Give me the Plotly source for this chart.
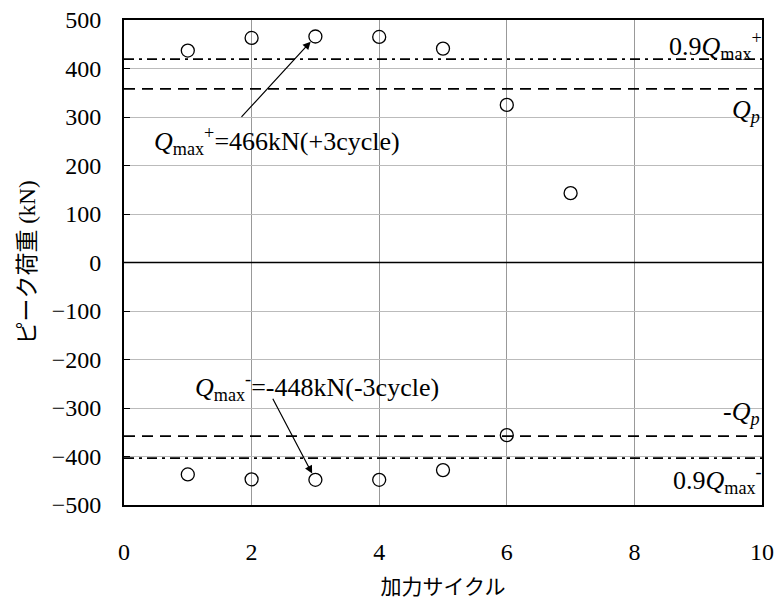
import plotly.graph_objects as go

# Peak load per loading cycle (kN)
cycles_pos = [1, 2, 3, 4, 5, 6, 7]
peak_pos = [437, 463, 466, 465, 441, 325, 143]
cycles_neg = [1, 2, 3, 4, 5, 6]
peak_neg = [-437, -447, -448, -448, -428, -356]

q_max_pos = 466
q_max_neg = -448
q_p = 358

x_ticks = [0, 2, 4, 6, 8, 10]
y_ticks = [500, 400, 300, 200, 100, 0, -100, -200, -300, -400, -500]

SERIF = "Liberation Serif, Noto Sans CJK JP"
DASHDOT = "10px,5px,3px,5px"
DASH = "11px,7px"

fig = go.Figure()

# reference levels: 0.9Qmax (dash-dot) and Qp (dashed)
for yv, dash in [(0.9 * q_max_pos, DASHDOT), (q_p, DASH),
                 (-q_p, DASH), (0.9 * q_max_neg, DASHDOT)]:
    fig.add_trace(go.Scatter(x=[0, 10], y=[yv, yv], mode="lines",
                             line=dict(color="black", width=1.7, dash=dash),
                             hoverinfo="skip", showlegend=False))

# zero line
fig.add_trace(go.Scatter(x=[0, 10], y=[0, 0], mode="lines",
                         line=dict(color="black", width=1.5),
                         hoverinfo="skip", showlegend=False))

marker = dict(symbol="circle-open", size=13, color="black", line=dict(width=1.3, color="black"))
fig.add_trace(go.Scatter(x=cycles_pos, y=peak_pos, mode="markers", marker=marker, showlegend=False))
fig.add_trace(go.Scatter(x=cycles_neg, y=peak_neg, mode="markers", marker=marker, showlegend=False))

txt = dict(family=SERIF, size=26, color="black")

# arrows pointing at the maximum peaks
fig.add_annotation(x=3, y=q_max_pos, ax=1.82, ay=297, axref="x", ayref="y",
                   xref="x", yref="y", showarrow=True, arrowhead=2, arrowsize=1.3,
                   arrowwidth=1.2, arrowcolor="black", standoff=7, text="")
fig.add_annotation(x=0.44, y=251, xref="x", yref="y", xanchor="left", yanchor="middle",
                   showarrow=False, font=txt,
                   text="<i>Q</i><sub>max</sub><sup>+</sup>=466kN(+3cycle)")

fig.add_annotation(x=3, y=q_max_neg, ax=2.32, ay=-278, axref="x", ayref="y",
                   xref="x", yref="y", showarrow=True, arrowhead=2, arrowsize=1.3,
                   arrowwidth=1.2, arrowcolor="black", standoff=7, text="")
fig.add_annotation(x=1.08, y=-257, xref="x", yref="y", xanchor="left", yanchor="middle",
                   showarrow=False, font=txt,
                   text="<i>Q</i><sub>max</sub><sup>-</sup>=-448kN(-3cycle)")

# reference level labels
fig.add_annotation(x=10, y=0.9 * q_max_pos, xref="x", yref="y", xanchor="right", yanchor="bottom",
                   showarrow=False, font=txt, yshift=-7, xshift=2,
                   text="0.9<i>Q</i><sub>max</sub><sup>+</sup>")
fig.add_annotation(x=10, y=q_p, xref="x", yref="y", xanchor="right", yanchor="top",
                   showarrow=False, font=txt, yshift=-4,
                   text="<i>Q</i><sub><i>p</i></sub>")
fig.add_annotation(x=10, y=-q_p, xref="x", yref="y", xanchor="right", yanchor="bottom",
                   showarrow=False, font=txt, yshift=5,
                   text="-<i>Q</i><sub><i>p</i></sub>")
fig.add_annotation(x=10, y=0.9 * q_max_neg, xref="x", yref="y", xanchor="right", yanchor="top",
                   showarrow=False, font=txt, yshift=-2, xshift=2,
                   text="0.9<i>Q</i><sub>max</sub><sup>-</sup>")

fig.update_layout(
    width=780, height=599,
    margin=dict(l=124, r=18, t=20, b=94),
    paper_bgcolor="white", plot_bgcolor="white",
    font=dict(family=SERIF, size=24, color="black"),
    showlegend=False,
)
fig.update_xaxes(range=[0, 10], tickvals=x_ticks, showgrid=True, gridcolor="#999999", gridwidth=1,
                 showline=True, linecolor="black", linewidth=2, mirror=True, zeroline=False,
                 ticks="", ticklabelstandoff=24, automargin=False,
                 title=dict(text="加力サイクル", font=dict(family=SERIF, size=21, color="black"), standoff=16),
                 tickfont=dict(family=SERIF, size=24, color="black"))
fig.update_yaxes(range=[-500, 500], tickvals=y_ticks, showgrid=True, gridcolor="#bbbbbb", gridwidth=1,
                 showline=True, linecolor="black", linewidth=2, mirror=True, zeroline=False,
                 ticks="inside", ticklen=6, tickcolor="black", ticklabelstandoff=16, automargin=False,
                 title=dict(text="ピーク荷重 (kN)", font=dict(family=SERIF, size=23, color="black"), standoff=10),
                 tickfont=dict(family=SERIF, size=24, color="black"))

fig.write_html("out.html")
